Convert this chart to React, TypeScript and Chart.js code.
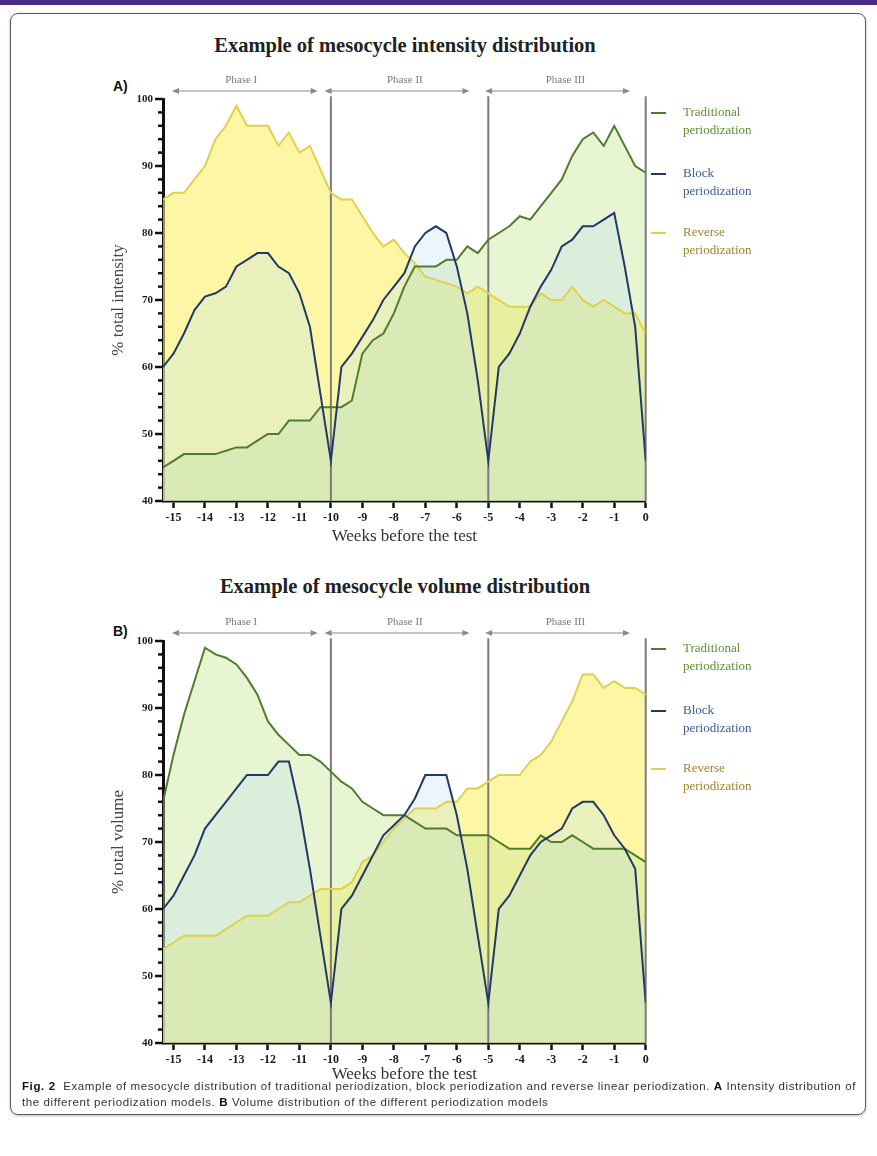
import React, { useEffect, useRef } from 'react';
import { Chart, registerables } from 'chart.js';

Chart.register(...registerables);

const SERIF = '"Liberation Serif", "Times New Roman", serif';
const SANS = '"Liberation Sans", Arial, sans-serif';

// x grid: one point every third of a week, from -15 1/3 to 0
const weeks = Array.from({ length: 47 }, (_, i) => (i - 46) / 3);
const xTickValues = [-15, -14, -13, -12, -11, -10, -9, -8, -7, -6, -5, -4, -3, -2, -1, 0];
const phaseBounds = [-10, -5, 0];
const phaseNames = ['Phase I', 'Phase II', 'Phase III'];
const phaseArrowStart = [-15.05, -10.2, -5.1];
const phaseArrowEnd = [-10.42, -5.6, -0.5];
const phaseLabelAt = [-12.85, -7.65, -2.55];
const seriesNames = ['Traditional', 'Block', 'Reverse'];

// A) intensity
const intensityTraditional = [
  45, 46, 47, 47, 47, 47, 47.5, 48, 48, 49, 50, 50, 52, 52, 52, 54, 54,
  54, 55, 62, 64, 65, 68, 72, 75, 75, 75, 76, 76, 78, 77, 79,
  80, 81, 82.5, 82, 84, 86, 88, 91.5, 94, 95, 93, 96, 93, 90, 89,
];
const intensityBlock = [
  60, 62, 65, 68.5, 70.5, 71, 72, 75, 76, 77, 77, 75, 74, 71, 66, 56, 46,
  60, 62, 64.5, 67, 70, 72, 74, 78, 80, 81, 80, 75, 68, 58, 46,
  60, 62, 65, 69, 72, 74.5, 78, 79, 81, 81, 82, 83, 75, 66, 46,
];
const intensityReverse = [
  85, 86, 86, 88, 90, 94, 96, 99, 96, 96, 96, 93, 95, 92, 93, 89.5, 86,
  85, 85, 82.5, 80, 78, 79, 77, 75.5, 73.5, 73, 72.5, 72, 71, 72, 71,
  70, 69, 69, 69, 71, 70, 70, 72, 70, 69, 70, 69, 68, 68, 65,
];

// B) volume
const volumeTraditional = [
  76, 83, 89, 94, 99, 98, 97.5, 96.5, 94.5, 92, 88, 86, 84.5, 83, 83, 82, 80.5,
  79, 78, 76, 75, 74, 74, 74, 73, 72, 72, 72, 71, 71, 71, 71,
  70, 69, 69, 69, 71, 70, 70, 71, 70, 69, 69, 69, 69, 68, 67,
];
const volumeBlock = [
  60, 62, 65, 68, 72, 74, 76, 78, 80, 80, 80, 82, 82, 75, 66, 56, 46,
  60, 62, 65, 68, 71, 72.5, 74, 76.5, 80, 80, 80, 74, 66, 56, 46,
  60, 62, 65, 68, 70, 71, 72, 75, 76, 76, 74, 71, 69, 66, 46,
];
const volumeReverse = [
  54, 55, 56, 56, 56, 56, 57, 58, 59, 59, 59, 60, 61, 61, 62, 63, 63,
  63, 64, 67, 68, 70, 72, 73.5, 75, 75, 75, 76, 76, 78, 78, 79,
  80, 80, 80, 82, 83, 85, 88, 91, 95, 95, 93, 94, 93, 93, 92,
];

const GREEN_LINE = '#4f7d2b';
const GREEN_FILL = 'rgba(200, 230, 150, 0.42)';
const BLUE_LINE = '#22386a';
const BLUE_FILL = 'rgba(190, 222, 240, 0.3)';
const YELLOW_LINE = '#e0d04e';
const YELLOW_FILL = 'rgba(252, 242, 105, 0.6)';
const legendLineColors = [GREEN_LINE, BLUE_LINE, YELLOW_LINE];
const legendTextColors = ['#5e8f35', '#3d5b9b', '#a4802f'];

const decorPlugin = {
  id: 'decor',
  beforeDatasetsDraw(chart: any) {
    const { ctx, chartArea, scales } = chart;
    const x = scales.x;
    const y = scales.y;
    ctx.save();
    ctx.strokeStyle = '#7b7b7b';
    ctx.lineWidth = 2;
    for (const b of phaseBounds) {
      const px = x.getPixelForValue(b);
      ctx.beginPath();
      ctx.moveTo(px, y.getPixelForValue(100.4));
      ctx.lineTo(px, chartArea.bottom);
      ctx.stroke();
    }
    ctx.restore();
  },
  afterDraw(chart: any, _args: any, opts: any) {
    const { ctx, chartArea, scales } = chart;
    const x = scales.x;
    const y = scales.y;
    const top = y.getPixelForValue(100);
    ctx.save();
    // y-axis tick marks (major + minor)
    ctx.strokeStyle = '#111';
    ctx.lineWidth = 2.5;
    for (let v = 40; v <= 100; v += 2) {
      const py = y.getPixelForValue(v);
      const len = v % 10 === 0 ? 8 : 5;
      ctx.beginPath();
      ctx.moveTo(chartArea.left - len, py);
      ctx.lineTo(chartArea.left, py);
      ctx.stroke();
    }
    // phase arrows
    const ay = top - 8;
    ctx.strokeStyle = '#8a8a8a';
    ctx.fillStyle = '#8a8a8a';
    ctx.lineWidth = 1.2;
    phaseNames.forEach((name, k) => {
      const x1 = x.getPixelForValue(phaseArrowStart[k]);
      const x2 = x.getPixelForValue(phaseArrowEnd[k]);
      ctx.beginPath();
      ctx.moveTo(x1 + 4, ay);
      ctx.lineTo(x2 - 4, ay);
      ctx.stroke();
      ctx.beginPath();
      ctx.moveTo(x1, ay);
      ctx.lineTo(x1 + 7, ay - 3);
      ctx.lineTo(x1 + 7, ay + 3);
      ctx.closePath();
      ctx.fill();
      ctx.beginPath();
      ctx.moveTo(x2, ay);
      ctx.lineTo(x2 - 7, ay - 3);
      ctx.lineTo(x2 - 7, ay + 3);
      ctx.closePath();
      ctx.fill();
      ctx.font = `11px ${SERIF}`;
      ctx.fillStyle = '#7a7a7a';
      ctx.textAlign = 'center';
      ctx.textBaseline = 'middle';
      ctx.fillText(name, x.getPixelForValue(phaseLabelAt[k]), top - 19);
      ctx.fillStyle = '#8a8a8a';
    });
    // side legend
    ctx.font = `13px ${SERIF}`;
    ctx.textAlign = 'left';
    ctx.textBaseline = 'middle';
    seriesNames.forEach((name, k) => {
      const cy = top + opts.offsets[k];
      ctx.strokeStyle = legendLineColors[k];
      ctx.lineWidth = 2;
      ctx.beginPath();
      ctx.moveTo(651, cy);
      ctx.lineTo(666, cy);
      ctx.stroke();
      ctx.fillStyle = legendTextColors[k];
      ctx.fillText(name, 683, cy);
      ctx.fillText('periodization', 683, cy + 18);
    });
    ctx.restore();
  },
};

function ds(label: string, values: number[], line: string, fillColor: string) {
  return {
    label,
    data: weeks.map((w, i) => ({ x: w, y: values[i] })),
    borderColor: line,
    backgroundColor: fillColor,
    borderWidth: 2,
    pointRadius: 0,
    tension: 0,
    fill: 'start',
  };
}

type Props = {
  top: number;
  trad: number[];
  block: number[];
  rev: number[];
  yTitle: string;
  xTitlePad: number;
  legendOffsets: number[];
};

function PeriodChart({ top, trad, block, rev, yTitle, xTitlePad, legendOffsets }: Props) {
  const ref = useRef<HTMLCanvasElement | null>(null);
  useEffect(() => {
    const chart = new Chart(ref.current as HTMLCanvasElement, {
      type: 'line',
      data: {
        datasets: [
          ds('Block periodization', block, BLUE_LINE, BLUE_FILL),
          ds('Traditional periodization', trad, GREEN_LINE, GREEN_FILL),
          ds('Reverse periodization', rev, YELLOW_LINE, YELLOW_FILL),
        ] as any,
      },
      options: {
        responsive: false,
        devicePixelRatio: 1,
        animation: false,
        events: [],
        layout: { padding: { left: 100, right: 231.3, top: 49, bottom: 0 } },
        plugins: {
          legend: { display: false },
          tooltip: { enabled: false },
          filler: { propagate: false, drawTime: 'beforeDatasetsDraw' },
          decor: { offsets: legendOffsets },
        } as any,
        scales: {
          x: {
            type: 'linear',
            min: -46 / 3,
            max: 0,
            afterBuildTicks: (axis: any) => {
              axis.ticks = xTickValues.map((v) => ({ value: v }));
            },
            afterFit: (s: any) => {
              s.height = 59;
            },
            ticks: {
              autoSkip: false,
              maxRotation: 0,
              padding: 3,
              color: '#1a1a1a',
              font: { family: SERIF, size: 12, weight: 'bold' },
              callback: (v: any) => String(Math.round(Number(v))),
            },
            grid: { display: true, drawOnChartArea: false, tickLength: 7, tickWidth: 2.5, tickColor: '#111' },
            border: { display: true, color: '#111', width: 2.5 },
            title: {
              display: true,
              text: 'Weeks before the test',
              color: '#333',
              font: { family: SERIF, size: 17 },
              padding: { top: 0, bottom: xTitlePad },
            },
          },
          y: {
            min: 40,
            max: 100,
            afterFit: (s: any) => {
              s.width = 63;
            },
            ticks: {
              stepSize: 2,
              autoSkip: false,
              padding: 2,
              color: '#1a1a1a',
              font: { family: SERIF, size: 11, weight: 'bold' },
              callback: (v: any) => (Number(v) % 10 === 0 ? String(v) : ''),
            },
            grid: { display: true, drawOnChartArea: false, tickLength: 8, tickColor: 'rgba(0,0,0,0)' },
            border: { display: true, color: '#111', width: 3 },
            title: {
              display: true,
              text: yTitle,
              color: '#444',
              font: { family: SERIF, size: 17 },
              padding: { top: 8, bottom: 0 },
            },
          },
        } as any,
      },
      plugins: [decorPlugin as any],
    });
    return () => chart.destroy();
  }, []);
  return (
    <canvas
      ref={ref}
      width={877}
      height={510}
      style={{ position: 'absolute', left: 0, top, width: 877, height: 510 }}
    />
  );
}

const abs = (s: React.CSSProperties): React.CSSProperties => ({ position: 'absolute', whiteSpace: 'nowrap', ...s });

const captionStyle: React.CSSProperties = { fontFamily: SANS, fontSize: 11.5, letterSpacing: 0.6, color: '#333' };

export default function App() {
  return (
    <div style={{ position: 'fixed', left: 0, top: 0, width: 877, height: 1156, background: '#fff', overflow: 'hidden' }}>
      <div style={abs({ left: 0, top: 0, width: 877, height: 5, background: '#4a2a84' })} />
      <div
        style={abs({
          left: 10,
          top: 13,
          width: 854,
          height: 1100,
          border: '1.5px solid #555',
          borderRadius: 8,
          boxShadow: '0 1px 3px rgba(0,0,0,0.25)',
        })}
      />
      <div style={abs({ left: 405, top: 34, transform: 'translateX(-50%)', fontFamily: SERIF, fontWeight: 'bold', fontSize: 20.5, color: '#222' })}>
        Example of mesocycle intensity distribution
      </div>
      <div style={abs({ left: 113, top: 78, fontFamily: SANS, fontWeight: 'bold', fontSize: 14, color: '#111' })}>A)</div>
      <div style={abs({ left: 405, top: 575, transform: 'translateX(-50%)', fontFamily: SERIF, fontWeight: 'bold', fontSize: 20.5, color: '#222' })}>
        Example of mesocycle volume distribution
      </div>
      <div style={abs({ left: 113, top: 623, fontFamily: SANS, fontWeight: 'bold', fontSize: 14, color: '#111' })}>B)</div>

      <PeriodChart
        top={50}
        trad={intensityTraditional}
        block={intensityBlock}
        rev={intensityReverse}
        yTitle="% total intensity"
        xTitlePad={12.8}
        legendOffsets={[14, 75, 134]}
      />
      <PeriodChart
        top={592}
        trad={volumeTraditional}
        block={volumeBlock}
        rev={volumeReverse}
        yTitle="% total volume"
        xTitlePad={17.5}
        legendOffsets={[8, 70, 128]}
      />

      <div style={abs({ left: 22, top: 1080, ...captionStyle })}>
        <b style={{ color: '#111' }}>Fig. 2</b>&nbsp; Example of mesocycle distribution of traditional periodization, block periodization and reverse linear
        periodization. <b style={{ color: '#111' }}>A</b> Intensity distribution of
      </div>
      <div style={abs({ left: 22, top: 1096, ...captionStyle })}>
        the different periodization models. <b style={{ color: '#111' }}>B</b> Volume distribution of the different periodization models
      </div>
    </div>
  );
}
